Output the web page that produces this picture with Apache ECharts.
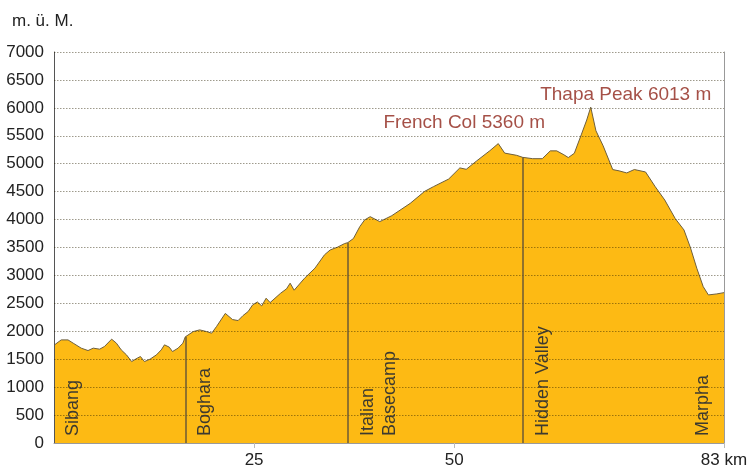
<!DOCTYPE html>
<html>
<head>
<meta charset="utf-8">
<script src="https://cdn.jsdelivr.net/npm/echarts@6/dist/echarts.min.js"></script>
<style>
html,body{margin:0;padding:0;background:#fff;}
#chart{width:753px;height:470px;}
</style>
</head>
<body>
<div id="chart"></div>
<script>
// ---- data ----
const profileKm = [0,0.9,1.75,2.4,3.4,4.25,4.9,5.7,6.3,7.2,7.8,8.4,9.05,9.7,10.4,10.8,11.3,12.0,12.8,13.4,13.8,14.4,14.8,15.5,16.1,16.4,17.4,18.2,19.05,19.7,20.3,21.4,22.3,23.0,23.6,24.25,24.8,25.4,25.95,26.5,27.0,28.3,29.05,29.5,30.0,31.3,32.6,33.8,34.5,35.4,36.3,36.7,37.4,38.2,38.8,39.5,40.7,42.2,44.5,46.3,47.4,49.3,50.7,51.5,52.8,54.45,55.5,56.3,57.8,58.55,59.8,61.0,62.0,62.8,63.7,64.25,65.0,65.9,66.55,67.05,67.7,68.6,69.8,70.6,71.55,72.5,73.9,75.1,76.3,77.6,78.7,79.5,80.3,81.1,81.75,82.8,83.7];
const profileElev = [1750,1846,1846,1787,1698,1655,1698,1680,1727,1859,1787,1667,1578,1458,1519,1548,1458,1501,1578,1667,1757,1716,1637,1698,1787,1900,1995,2025,1995,1966,2084,2320,2210,2192,2280,2353,2470,2525,2454,2592,2514,2680,2760,2861,2735,2950,3130,3370,3456,3505,3570,3587,3660,3873,3993,4052,3963,4070,4290,4505,4589,4725,4925,4900,5050,5233,5360,5190,5150,5114,5090,5090,5230,5230,5160,5110,5186,5530,5782,6013,5590,5320,4895,4872,4835,4896,4852,4590,4350,4020,3814,3500,3129,2800,2651,2669,2692];

const waypointNames = ['Sibang','Boghara','Italian\nBasecamp','Hidden Valley','Marpha'];
const waypointKm    = [0, 16.4, 36.7, 58.55, 83.7];
const waypointElev  = [null, 1900, 3587, 5114, null]; // null: no marker line

const summitNames = ['French Col 5360 m','Thapa Peak 6013 m'];
const summitKm    = [55.5, 67.05];
const summitElev  = [5360, 6013];

const yTickMin = 0, yTickMax = 7000, yTickStep = 500;
const xEnd = 83.7;
const xTickValues = [25, 50, 83.7];
const xTickLabels = ['25', '50', '83 km'];
const yUnitLabel = 'm. ü. M.';

// ---- styles (not data) ----
const FONT = 'Liberation Sans, Arial, Helvetica, sans-serif';
const waypointLabelDx = [19, 20, 31, 20, -21];   // px offsets of rotated labels
const summitLabelOffset = [[-34, -21], [35, -12]];
const gridLineStyle = {type: [1.5, 1.5], color: 'rgba(40,30,0,0.45)', width: 1};
const waypointLineStyle = {color: '#6b5a34', width: 1.5, type: 'solid'};

const chart = echarts.init(document.getElementById('chart'), null, {renderer: 'canvas'});

const markLines = [];
// dotted horizontal gridlines drawn above the filled area
for (let v = yTickMin + yTickStep; v <= yTickMax; v += yTickStep) {
  markLines.push({yAxis: v, lineStyle: gridLineStyle});
}
waypointKm.forEach((k, i) => {
  if (waypointElev[i] != null) {
    markLines.push([{coord: [k, 0], lineStyle: waypointLineStyle}, {coord: [k, waypointElev[i]]}]);
  }
});

chart.setOption({
  animation: false,
  backgroundColor: '#fff',
  title: {
    text: yUnitLabel, left: 7, top: 8,
    textStyle: {fontSize: 17, fontWeight: 'normal', color: '#222', fontFamily: FONT}
  },
  grid: {left: 54, right: 29, top: 52, bottom: 27, containLabel: false},
  xAxis: {
    type: 'value', min: 0, max: xEnd, z: 6,
    splitLine: {show: false},
    axisLine: {show: true, lineStyle: {color: '#9a9a9a', width: 1}},
    axisTick: {show: true, length: 5, customValues: xTickValues, lineStyle: {color: '#bbb'}},
    axisLabel: {
      customValues: xTickValues, margin: 9, fontSize: 17, color: '#222', fontFamily: FONT,
      formatter: v => { const i = xTickValues.indexOf(v); return i >= 0 ? xTickLabels[i] : ''; }
    }
  },
  yAxis: [{
    type: 'value', min: yTickMin, max: yTickMax, interval: yTickStep, z: 6,
    axisLine: {show: true, lineStyle: {color: '#555', width: 1}},
    axisTick: {show: false},
    axisLabel: {fontSize: 17, color: '#222', margin: 10, fontFamily: FONT, formatter: v => String(v)},
    splitLine: {show: false}
  }, {
    type: 'value', min: yTickMin, max: yTickMax, interval: yTickStep, position: 'right', z: 6,
    axisLine: {show: true, lineStyle: {color: '#999', width: 1}},
    axisTick: {show: false}, axisLabel: {show: false}, splitLine: {show: false}
  }],
  series: [{
    type: 'line',
    data: profileKm.map((k, i) => [k, profileElev[i]]),
    symbol: 'none',
    lineStyle: {color: '#6e5f3c', width: 1},
    areaStyle: {color: '#FDBA14', opacity: 1},
    z: 2,
    markLine: {
      silent: true, symbol: 'none', animation: false, z: 8,
      label: {show: false},
      data: markLines
    }
  }, {
    type: 'scatter',
    symbolSize: 0,
    z: 5,
    data: summitKm.map((k, i) => ({
      value: [k, summitElev[i]], name: summitNames[i],
      label: {offset: summitLabelOffset[i]}
    })),
    label: {
      show: true, position: 'inside', formatter: p => p.name,
      color: '#8f2419', fontSize: 19, fontFamily: FONT
    }
  }]
});

// rotated waypoint labels positioned through the chart's own scales
const graphics = waypointNames.map((n, i) => {
  const p = chart.convertToPixel({gridIndex: 0}, [waypointKm[i], 0]);
  return {
    type: 'text', x: p[0] + waypointLabelDx[i], y: p[1] - 7, rotation: Math.PI / 2, z: 10,
    style: {
      text: n, fill: '#3d3a30', font: '18px ' + FONT,
      align: 'left', verticalAlign: 'middle', lineHeight: 22
    }
  };
});
chart.setOption({graphic: graphics});
</script>
</body>
</html>
